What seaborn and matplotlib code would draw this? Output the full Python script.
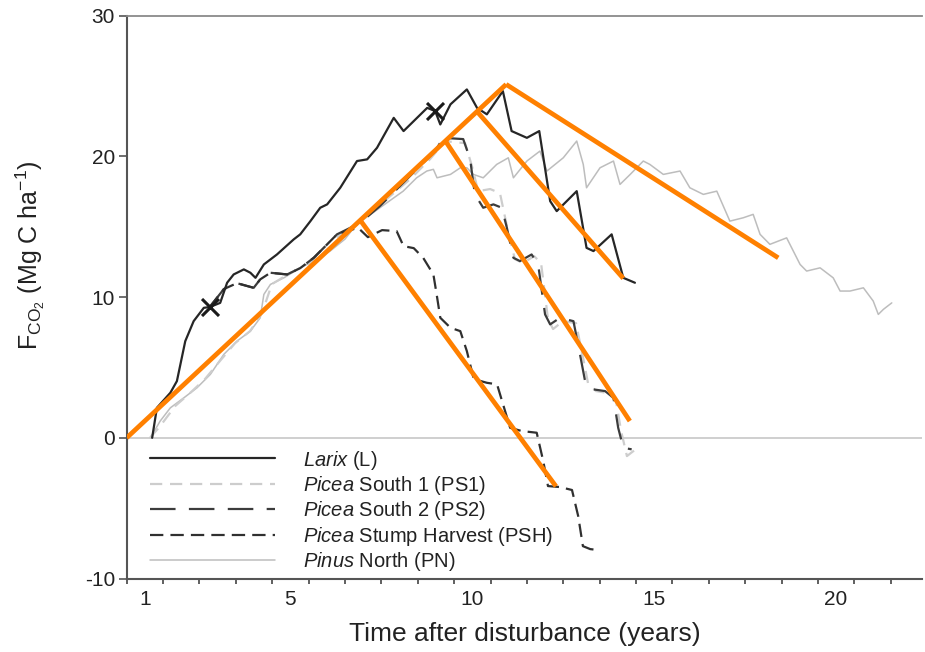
import numpy as np
import pandas as pd
import matplotlib
matplotlib.use("Agg")
import matplotlib.pyplot as plt
import seaborn as sns

# ---------------- data (x = years after disturbance, y = F_CO2 in Mg C/ha) -------------
larix_x = [0.70, 0.83, 1.20, 1.38, 1.61, 1.84, 2.12, 2.28, 2.57, 2.76, 2.94, 3.22, 3.40, 3.54,
           3.77, 4.13, 4.59, 4.77, 5.05, 5.32, 5.51, 5.87, 6.33, 6.61, 6.88, 7.34, 7.61, 7.89,
           8.26, 8.48, 8.62, 8.90, 9.35, 9.63, 9.90, 10.34, 10.58, 11.00, 11.34, 11.64, 11.82,
           12.37, 12.64, 12.83, 13.33, 13.65, 13.97]
larix_y = [0.00, 2.13, 3.20, 4.03, 6.87, 8.29, 9.24, 9.29, 9.59, 11.02, 11.61, 11.97, 11.73, 11.37,
           12.32, 13.03, 14.10, 14.46, 15.40, 16.35, 16.59, 17.77, 19.67, 19.79, 20.61, 22.74, 21.80, 22.51,
           23.45, 23.22, 22.27, 23.70, 24.76, 23.45, 22.99, 24.64, 21.80, 21.32, 21.80, 16.82, 16.11,
           17.53, 13.50, 13.27, 14.46, 11.37, 11.02]

ps1_x = [0.64, 0.92, 1.33, 1.74, 2.15, 2.56, 2.98, 3.39, 3.72, 3.99, 4.49, 5.04, 5.59, 6.14, 6.69,
         7.24, 7.79, 8.34, 8.75, 9.30, 9.49, 9.66, 9.99, 10.26, 10.48, 10.67, 10.89, 11.20, 11.39,
         11.58, 11.72, 11.99, 12.35, 12.54, 12.68, 12.90, 13.23, 13.45, 13.59, 13.75, 14.00]
ps1_y = [0.00, 0.83, 2.25, 3.18, 4.17, 5.45, 6.73, 7.58, 8.86, 10.92, 11.71, 12.42, 13.98, 14.83, 15.97,
         17.17, 18.38, 19.81, 21.08, 20.94, 19.31, 17.53, 17.68, 17.39, 14.69, 12.70, 12.42, 12.91, 12.42,
         8.44, 7.73, 8.29, 8.15, 5.74, 3.89, 3.32, 3.18, 2.61, 0.48, -1.30, -0.80]

ps2_x = [2.28, 2.67, 3.03, 3.49, 3.67, 3.95, 4.41, 4.77, 5.14, 5.51, 5.78, 6.41, 6.96, 7.51, 8.06,
         8.47, 8.70, 9.25, 9.44, 9.57, 9.80, 10.08, 10.31, 10.45, 10.63, 10.81, 11.13, 11.31, 11.50,
         11.64, 11.91, 12.28, 12.46, 12.60, 12.83, 13.15, 13.38, 13.51, 13.65, 13.88]
ps2_y = [9.29, 10.57, 10.99, 10.66, 11.26, 11.73, 11.61, 12.06, 12.79, 13.75, 14.46, 15.26, 16.47, 17.89, 19.31,
         20.35, 21.32, 21.23, 19.81, 17.30, 16.35, 16.59, 16.35, 14.93, 12.79, 12.56, 13.03, 12.32, 8.77,
         8.06, 8.53, 8.29, 5.93, 4.03, 3.44, 3.32, 2.84, 0.71, -0.71, -0.82]

psh_x = [2.28, 2.67, 3.03, 3.49, 3.67, 3.95, 4.41, 4.77, 5.14, 5.51, 5.78, 6.06, 6.36, 6.63, 7.02,
         7.42, 7.61, 7.89, 8.15, 8.43, 8.52, 8.62, 8.90, 9.17, 9.35, 9.54, 9.90, 10.18, 10.36, 10.54,
         10.86, 11.27, 11.45, 11.58, 11.91, 12.24, 12.41, 12.54, 12.74, 12.96]
psh_y = [9.29, 10.57, 10.99, 10.66, 11.26, 11.73, 11.61, 12.06, 12.79, 13.75, 14.46, 14.69, 14.93, 14.26, 14.76,
         14.69, 13.62, 13.48, 12.79, 11.61, 10.19, 8.53, 7.82, 7.58, 6.16, 4.17, 3.91, 3.80, 2.25, 0.71,
         0.48, 0.36, -1.66, -3.43, -3.50, -3.71, -5.56, -7.70, -7.91, -7.98]

pn_x = [0.65, 0.92, 1.20, 1.57, 1.93, 2.30, 2.67, 3.03, 3.40, 3.67, 3.77, 3.95, 4.32, 4.77, 5.14,
        5.59, 6.00, 6.32, 6.96, 7.60, 7.97, 8.25, 8.43, 8.53, 8.90, 9.17, 9.35, 9.53, 9.80, 10.17,
        10.49, 10.63, 11.00, 11.36, 11.55, 12.00, 12.37, 12.55, 12.64, 13.01, 13.38, 13.56, 13.84,
        14.20, 14.38, 14.75, 15.21, 15.48, 15.85, 16.22, 16.58, 16.95, 17.22, 17.41, 17.68, 18.14,
        18.51, 18.69, 19.06, 19.42, 19.61, 19.88, 20.25, 20.52, 20.66, 20.80, 21.03]
pn_y = [0.00, 1.19, 2.13, 2.84, 3.55, 4.51, 5.93, 6.87, 7.58, 8.53, 10.19, 10.90, 11.37, 12.08, 12.56,
        13.27, 14.12, 15.17, 16.35, 17.53, 18.48, 18.96, 19.08, 18.48, 18.72, 19.19, 19.19, 18.72, 18.48, 19.43,
        19.90, 18.48, 19.67, 20.38, 18.96, 19.90, 21.09, 19.43, 17.77, 19.19, 19.67, 18.01, 18.72,
        19.67, 19.43, 18.72, 18.96, 17.77, 17.30, 17.53, 15.40, 15.64, 15.88, 14.46, 13.75, 14.21,
        12.32, 11.85, 12.08, 11.37, 10.43, 10.43, 10.66, 9.72, 8.77, 9.13, 9.59]

# cross markers on the Larix curve
mark_x = [2.28, 8.48]
mark_y = [9.29, 23.22]

# orange trend annotations (start/end of each segment)
orange_x = [[0.0, 10.43], [10.43, 17.91], [9.63, 13.65], [8.76, 13.83], [6.42, 11.80]]
orange_y = [[0.0, 25.12], [25.12, 12.79], [23.19, 11.33], [21.10, 1.19], [15.46, -3.45]]

series_labels = [r"$\it{Larix}$ (L)", r"$\it{Picea}$ South 1 (PS1)", r"$\it{Picea}$ South 2 (PS2)",
                 r"$\it{Picea}$ Stump Harvest (PSH)", r"$\it{Pinus}$ North (PN)"]
label_years = [1, 5, 10, 15, 20]
y_ticks = [-10, 0, 10, 20, 30]

# ---------------- style ----------------
sns.set_theme(style="white")
plt.rcParams["font.family"] = ["Liberation Sans", "DejaVu Sans"]
plt.rcParams["mathtext.fontset"] = "custom"
plt.rcParams["mathtext.rm"] = "Liberation Sans"
plt.rcParams["mathtext.it"] = "Liberation Sans:italic"
plt.rcParams["mathtext.bf"] = "Liberation Sans:bold"
plt.rcParams["text.color"] = "#222222"
plt.rcParams["axes.unicode_minus"] = False

W, H = 925, 652
fig = plt.figure(figsize=(W / 100, H / 100), dpi=100)
ax_l, ax_r, ax_t, ax_b = 126.7, 922.0, 15.7, 578.5
ax = fig.add_axes([ax_l / W, (H - ax_b) / H, (ax_r - ax_l) / W, (ax_b - ax_t) / H])

ax.axhline(0, color="#cccccc", lw=1.3, zorder=1)

styles = [
    dict(color="#262626", lw=1.6, ls="-"),
    dict(color="#cdcdcd", lw=1.6, ls=(0, (5.5, 3.5))),
    dict(color="#3c3c3c", lw=1.6, ls=(0, (11.5, 6.0))),
    dict(color="#303030", lw=1.6, ls=(0, (6.0, 3.2))),
    dict(color="#bdbdbd", lw=1.1, ls="-"),
]
series = [(larix_x, larix_y), (ps1_x, ps1_y), (ps2_x, ps2_y), (psh_x, psh_y), (pn_x, pn_y)]
zorders = [5, 3, 4, 4, 2]
for (xs, ys), st, lab, z in zip(series, styles, series_labels, zorders):
    df = pd.DataFrame({"t": xs, "f": ys})
    sns.lineplot(data=df, x="t", y="f", ax=ax, color=st["color"], linewidth=st["lw"],
                 linestyle=st["ls"], label=lab, estimator=None, sort=False, zorder=z)

sns.scatterplot(x=mark_x, y=mark_y, ax=ax, marker="x", s=150, color="#1a1a1a",
                linewidth=2.2, zorder=6, legend=False)

for ox, oy in zip(orange_x, orange_y):
    ax.plot(ox, oy, color="#ff8000", lw=3.4, solid_capstyle="butt", zorder=10)

ax.set_xlim(0, (ax_r - ax_l) / 36.38)
ax.set_ylim(-10, 30)

# x axis: tick marks at year boundaries, labels centred in the year
ax.set_xticks(np.arange(0, 22))
ax.set_xticklabels([])
ax.set_xticks([y - 0.5 for y in label_years], minor=True)
ax.set_xticklabels([str(y) for y in label_years], minor=True)
ax.tick_params(axis="x", which="major", bottom=True, direction="out", length=3.5, width=1.2,
               color="#444444")
ax.tick_params(axis="x", which="minor", bottom=True, length=0, pad=8, labelsize=15,
               labelcolor="#222222")
ax.set_yticks(y_ticks)
ax.tick_params(axis="y", left=True, direction="out", length=5.5, width=1.2, color="#555555",
               labelsize=15, labelcolor="#222222", pad=3)

for side in ["left", "bottom"]:
    ax.spines[side].set_color("#555555")
    ax.spines[side].set_linewidth(1.5)
ax.spines["top"].set_color("#8a8a8a")
ax.spines["top"].set_linewidth(1.3)
ax.spines["right"].set_visible(False)

ax.set_xlabel("Time after disturbance (years)", fontsize=19, color="#222222", labelpad=10)
ax.set_ylabel(r"F$_{\mathrm{CO_2}}$ (Mg C ha$^{-1}$)", fontsize=18, color="#222222")
ax.yaxis.set_label_coords(-0.1, 0.575)

leg = ax.legend(loc="upper left", bbox_to_anchor=(150 / W, (H - 448.5) / H),
                bbox_transform=fig.transFigure, frameon=False, fontsize=14.5,
                handlelength=6.2, handletextpad=1.4, labelspacing=0.12,
                borderpad=0, borderaxespad=0)
for t in leg.get_texts():
    t.set_color("#222222")

fig.savefig("out.png", dpi=100)
